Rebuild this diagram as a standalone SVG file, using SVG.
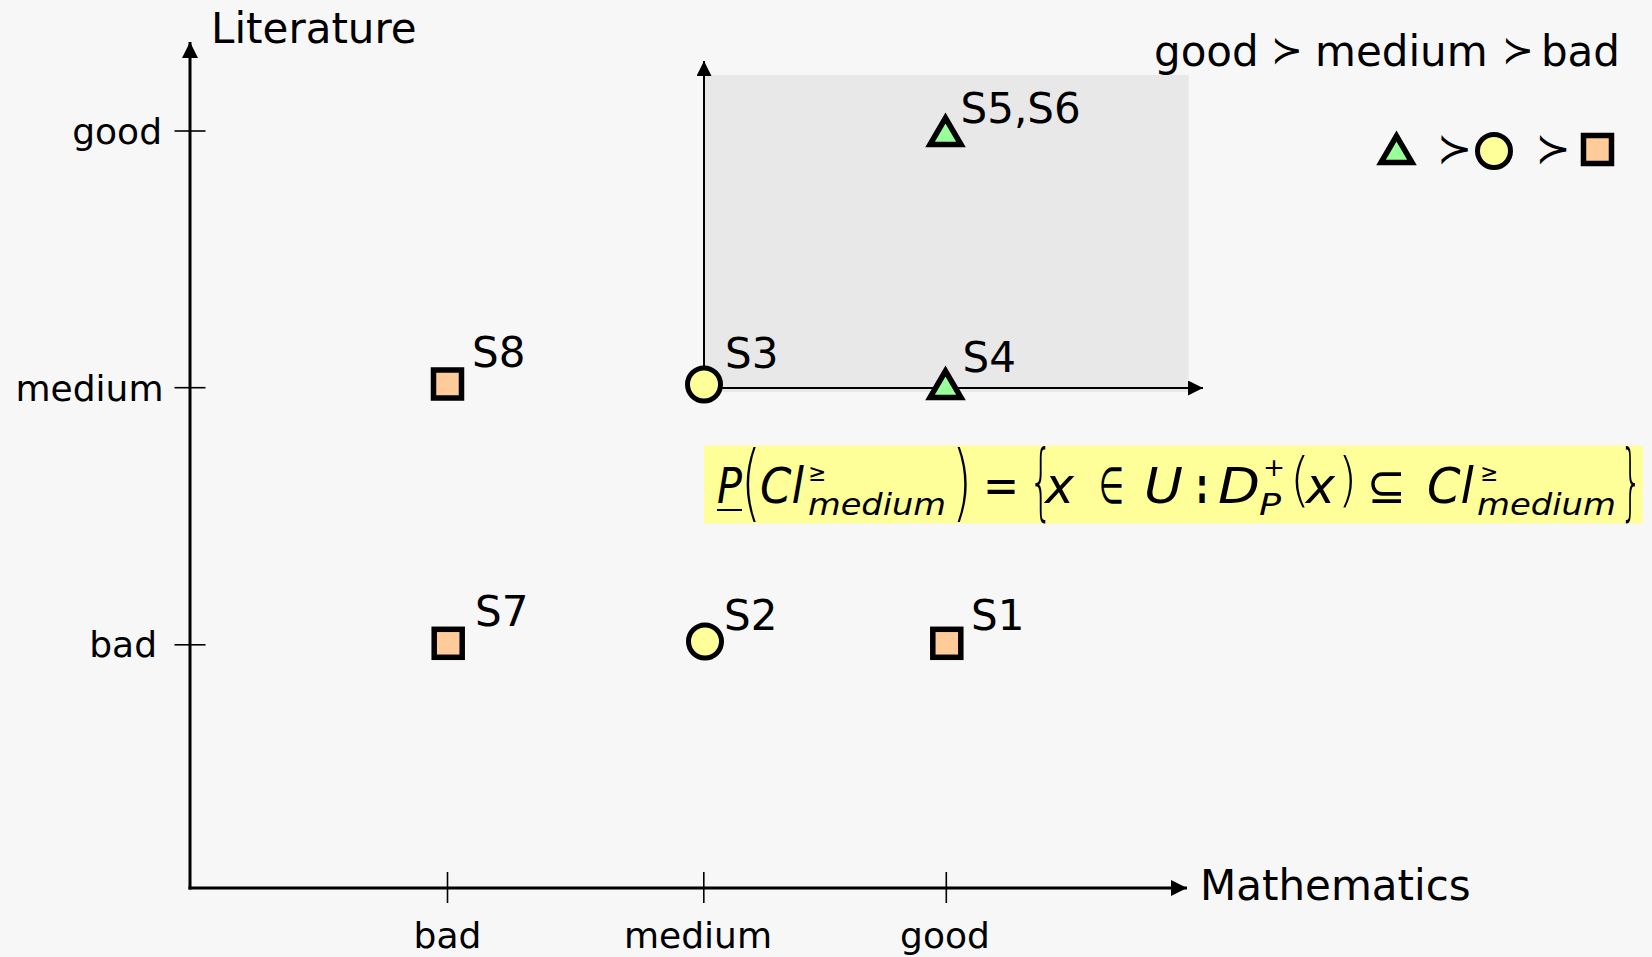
<svg xmlns="http://www.w3.org/2000/svg" width="1652" height="957" viewBox="0 0 1652 957">
<style>
.t{font-family:"DejaVu Sans","Liberation Sans",sans-serif;fill:#000}
.ax{font-size:42px}
.tk{font-size:36px}
.lb{font-size:42px}
.m{font-family:"DejaVu Sans","Liberation Sans",sans-serif;font-style:italic;font-size:50px;fill:#000}
.mn{font-family:"DejaVu Sans","Liberation Sans",sans-serif;font-size:50px;fill:#000}
.ms{font-family:"DejaVu Sans","Liberation Sans",sans-serif;font-style:italic;font-size:30px;fill:#000}
.sup{font-family:"DejaVu Sans","Liberation Sans",sans-serif;font-size:24px;fill:#000}
.br{font-family:"DejaVu Sans","Liberation Sans",sans-serif;font-weight:200;fill:#000}
.axis{stroke:#000;stroke-width:3;fill:none}
.thin{stroke:#000;stroke-width:2;fill:none}
.tick{stroke:#000;stroke-width:1.6}
.sq{fill:#ffcc99;stroke:#000;stroke-width:5.5}
.ci{fill:#ffff99;stroke:#000;stroke-width:5}
.tr{fill:#99ff99;stroke:#000;stroke-width:5.5;stroke-linejoin:miter}
</style>
<defs>
<marker id="ah" viewBox="0 0 10 10" refX="10" refY="5" markerWidth="16" markerHeight="16" markerUnits="userSpaceOnUse" orient="auto">
<path d="M0,0 L10,5 L0,10 Z" fill="#000"/>
</marker>
<marker id="ah2" viewBox="0 0 10 10" refX="10" refY="5" markerWidth="15" markerHeight="15" markerUnits="userSpaceOnUse" orient="auto">
<path d="M0,0 L10,5 L0,10 Z" fill="#000"/>
</marker>
</defs>
<rect width="1652" height="957" fill="#f7f7f7"/>
<rect x="704" y="75" width="484.5" height="317" fill="#e8e8e8"/>
<rect x="704" y="445.5" width="939" height="78" fill="#ffff99"/>

<g id="connectors">
<path class="axis" d="M190,889.5 V42" marker-end="url(#ah)"/>
<path class="axis" d="M188.5,888 H1187" marker-end="url(#ah)"/>
<path class="thin" d="M704,388 V61" marker-end="url(#ah2)"/>
<path class="thin" d="M704,388 H1203" marker-end="url(#ah2)"/>
<line class="tick" x1="447.5" y1="872" x2="447.5" y2="903"/>
<line class="tick" x1="703.8" y1="872" x2="703.8" y2="903"/>
<line class="tick" x1="946.3" y1="872" x2="946.3" y2="903"/>
<line class="tick" x1="174.5" y1="131" x2="205.5" y2="131"/>
<line class="tick" x1="174.5" y1="387.7" x2="205.5" y2="387.7"/>
<line class="tick" x1="174.5" y1="644.8" x2="205.5" y2="644.8"/>
</g>

<g id="axis-labels">
<text class="t ax" x="211" y="42.5">Literature</text>
<text class="t ax" x="1200" y="899.5">Mathematics</text>
<text class="t tk" x="447.5" y="948" text-anchor="middle">bad</text>
<text class="t tk" x="698" y="948" text-anchor="middle">medium</text>
<text class="t tk" x="945" y="948" text-anchor="middle">good</text>
<text class="t tk" x="162" y="143.5" text-anchor="end">good</text>
<text class="t tk" x="163.5" y="401" text-anchor="end">medium</text>
<text class="t tk" x="157" y="657" text-anchor="end">bad</text>
</g>

<g id="order-text">
<text class="t lb" x="1154" y="65.5">good</text>
<text class="t" x="1271" y="63" font-size="38">≻</text>
<text class="t lb" x="1315" y="65.5">medium</text>
<text class="t" x="1502" y="63" font-size="38">≻</text>
<text class="t lb" x="1620" y="65.5" text-anchor="end">bad</text>
</g>

<g id="legend">
<polygon class="tr" points="1396.5,136 1381,162.5 1412,162.5"/>
<text class="t" x="1437" y="163" font-size="42">≻</text>
<circle class="ci" cx="1494" cy="151" r="16.5"/>
<text class="t" x="1535.5" y="163" font-size="42">≻</text>
<rect class="sq" x="1583.5" y="135.5" width="28" height="28"/>
</g>

<g id="S8">
<rect class="sq" x="433.5" y="370" width="28" height="28"/>
<text class="t lb" x="472" y="367">S8</text>
</g>
<g id="S7">
<rect class="sq" x="434.2" y="629.3" width="28" height="28"/>
<text class="t lb" x="475" y="626">S7</text>
</g>
<g id="S1">
<rect class="sq" x="932.8" y="629.3" width="28" height="28"/>
<text class="t lb" x="971" y="630">S1</text>
</g>
<g id="S2">
<circle class="ci" cx="705" cy="641.5" r="16.5"/>
<text class="t lb" x="724" y="629.5">S2</text>
</g>
<g id="S3">
<circle class="ci" cx="704" cy="384.5" r="16.5"/>
<text class="t lb" x="725" y="368.3">S3</text>
</g>
<g id="S4">
<polygon class="tr" points="945.5,371 930,397.5 961,397.5"/>
<text class="t lb" x="962.5" y="371.5">S4</text>
</g>
<g id="S5S6">
<polygon class="tr" points="945.5,118 930,144.5 961,144.5"/>
<text class="t lb" x="960.5" y="122.5">S5,S6</text>
</g>

<g id="formula">
<text class="m" x="717" y="503" textLength="25" lengthAdjust="spacingAndGlyphs">P</text>
<line x1="717" y1="510" x2="742" y2="510" stroke="#000" stroke-width="2"/>
<text class="br" x="741" y="510.5" font-size="84" textLength="20" lengthAdjust="spacingAndGlyphs">(</text>
<text class="m" x="760" y="503" textLength="44" lengthAdjust="spacingAndGlyphs">Cl</text>
<text class="sup" x="808" y="481" textLength="18" lengthAdjust="spacingAndGlyphs">≥</text>
<text class="ms" x="808" y="515" textLength="138" lengthAdjust="spacingAndGlyphs">medium</text>
<text class="br" x="952" y="510.5" font-size="84" textLength="20" lengthAdjust="spacingAndGlyphs">)</text>
<text class="mn" x="983" y="503" textLength="36" lengthAdjust="spacingAndGlyphs">=</text>
<text class="br" x="1029" y="510" font-size="84" textLength="24" lengthAdjust="spacingAndGlyphs">{</text>
<text class="m" x="1045" y="503" textLength="29" lengthAdjust="spacingAndGlyphs">x</text>
<text class="mn" x="1099" y="503" font-size="40" textLength="25" lengthAdjust="spacingAndGlyphs">∈</text>
<text class="m" x="1144" y="503" textLength="39" lengthAdjust="spacingAndGlyphs">U</text>
<text class="mn" x="1196" y="503" font-weight="bold" textLength="12" lengthAdjust="spacingAndGlyphs">:</text>
<text class="m" x="1218" y="503" textLength="42" lengthAdjust="spacingAndGlyphs">D</text>
<text class="sup" x="1263" y="476" textLength="22" lengthAdjust="spacingAndGlyphs">+</text>
<text class="ms" x="1259" y="515" textLength="22" lengthAdjust="spacingAndGlyphs">P</text>
<text class="br" x="1290" y="499.5" font-size="58" textLength="20" lengthAdjust="spacingAndGlyphs">(</text>
<text class="m" x="1306" y="503" textLength="29" lengthAdjust="spacingAndGlyphs">x</text>
<text class="br" x="1338" y="499.5" font-size="58" textLength="19" lengthAdjust="spacingAndGlyphs">)</text>
<text class="mn" x="1367" y="503" font-size="44" textLength="39" lengthAdjust="spacingAndGlyphs">⊆</text>
<text class="m" x="1427" y="503" textLength="47" lengthAdjust="spacingAndGlyphs">Cl</text>
<text class="sup" x="1480" y="481" textLength="18" lengthAdjust="spacingAndGlyphs">≥</text>
<text class="ms" x="1477" y="515" textLength="139" lengthAdjust="spacingAndGlyphs">medium</text>
<text class="br" x="1620" y="510" font-size="84" textLength="22" lengthAdjust="spacingAndGlyphs">}</text>
</g>
</svg>
